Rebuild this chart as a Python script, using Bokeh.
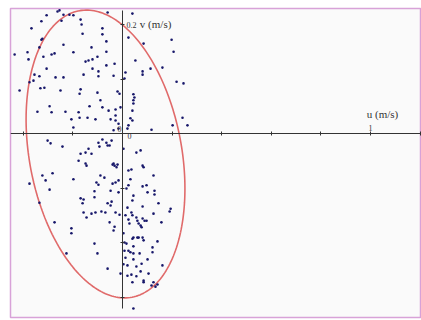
import numpy as np
from bokeh.plotting import figure
from bokeh.models import LinearAxis, FixedTicker, Range1d
from bokeh.core.properties import value
from bokeh.embed import file_html
from bokeh.resources import INLINE

# ---- data (u, v in m/s) ----
u = [-0.262, -0.254, -0.306, -0.238, -0.214, -0.198, -0.060, 0.040, -0.327, -0.169,
     -0.165, -0.246, -0.367, -0.081, -0.327, -0.323, -0.161, -0.081, -0.335, -0.238,
     -0.065, 0.024, 0.085, 0.198, -0.383, -0.379, -0.274, -0.286, -0.319, -0.198,
     -0.125, -0.101, -0.065, 0.206, -0.435, -0.149, -0.137, -0.121, -0.032, 0.052,
     -0.306, -0.121, -0.065, 0.113, 0.161, -0.355, -0.359, -0.375, -0.335, -0.270,
     -0.238, -0.157, -0.097, -0.097, -0.036, 0.012, 0.081, 0.081, 0.008, -0.331,
     -0.315, -0.250, -0.169, -0.173, -0.101, -0.020, -0.012, 0.218, 0.246, -0.415,
     -0.343, -0.294, -0.230, -0.177, -0.133, -0.089, -0.081, -0.056, -0.028, -0.028,
     -0.008, 0.044, 0.048, 0.044, 0.044, 0.040, -0.206, -0.173, -0.141, -0.109,
     -0.048, -0.028, -0.016, 0.032, 0.040, 0.024, 0.020, -0.198, 0.117, 0.202,
     0.242, 0.262, -0.036, -0.016, -0.286, -0.302, -0.290, -0.242, -0.097, -0.081,
     -0.065, -0.060, -0.052, -0.044, -0.093, -0.137, -0.149, -0.125, 0.073, -0.169,
     0.004, 0.056, -0.375, -0.323, -0.310, -0.282, -0.294, -0.198, -0.149, -0.145,
     -0.177, -0.040, -0.032, -0.020, -0.024, -0.089, -0.073, -0.105, -0.097, -0.040,
     -0.028, -0.016, -0.048, -0.016, 0.024, 0.036, 0.085, 0.125, 0.032, 0.024,
     0.016, 0.081, 0.097, 0.101, 0.129, 0.129, -0.113, -0.113, -0.169, -0.157,
     -0.161, -0.060, -0.044, -0.048, -0.335, 0.044, 0.040, 0.020, 0.081, 0.145,
     0.194, 0.190, -0.157, -0.125, -0.109, -0.085, -0.069, -0.145, -0.028, -0.012,
     0.012, 0.036, 0.040, 0.056, 0.060, 0.065, 0.073, 0.077, 0.081, 0.089,
     0.097, 0.125, -0.274, 0.024, 0.028, -0.052, -0.032, 0.157, -0.036, -0.206,
     -0.206, 0.004, 0.040, 0.044, 0.060, 0.065, 0.081, 0.085, 0.008, 0.016,
     -0.113, 0.044, 0.121, 0.141, -0.101, 0.008, 0.024, 0.032, 0.044, 0.069,
     -0.226, 0.121, 0.012, 0.044, 0.101, 0.004, 0.020, 0.056, 0.077, 0.161,
     -0.060, 0.073, 0.020, 0.105, -0.008, 0.036, 0.056, 0.085, 0.085, 0.040,
     0.125, 0.133, 0.141, 0.117, 0.044, -0.036, 0.081]
v = [0.224, 0.226, 0.217, 0.218, 0.218, 0.217, 0.222, 0.220, 0.206, 0.209,
     0.200, 0.207, 0.193, 0.193, 0.172, 0.174, 0.183, 0.182, 0.158, 0.163,
     0.169, 0.176, 0.165, 0.172, 0.149, 0.136, 0.147, 0.145, 0.141, 0.149,
     0.158, 0.141, 0.150, 0.150, 0.145, 0.132, 0.134, 0.136, 0.128, 0.134,
     0.119, 0.119, 0.125, 0.119, 0.121, 0.108, 0.097, 0.094, 0.105, 0.103,
     0.103, 0.108, 0.114, 0.105, 0.106, 0.112, 0.114, 0.108, 0.101, 0.083,
     0.084, 0.079, 0.081, 0.073, 0.075, 0.077, 0.073, 0.095, 0.092, 0.079,
     0.040, 0.050, 0.040, 0.039, 0.050, 0.061, 0.048, 0.042, 0.044, 0.033,
     0.048, 0.072, 0.066, 0.061, 0.055, 0.042, 0.026, 0.029, 0.029, 0.026,
     0.026, 0.024, 0.018, 0.028, 0.024, 0.015, 0.009, 0.011, 0.007, 0.015,
     0.029, 0.015, 0.006, 0.009, 0.039, -0.013, -0.018, -0.024, -0.017, -0.011,
     -0.017, -0.022, -0.022, -0.013, -0.024, -0.028, -0.035, -0.037, -0.031, -0.037,
     -0.028, -0.035, -0.092, -0.077, -0.086, -0.073, -0.103, -0.084, -0.055, -0.059,
     -0.050, -0.057, -0.059, -0.057, -0.062, -0.077, -0.081, -0.090, -0.094, -0.092,
     -0.090, -0.086, -0.105, -0.108, -0.068, -0.066, -0.062, -0.077, -0.084, -0.095,
     -0.101, -0.097, -0.095, -0.108, -0.105, -0.112, -0.106, -0.117, -0.119, -0.121,
     -0.128, -0.128, -0.125, -0.132, -0.127, -0.114, -0.123, -0.136, -0.134, -0.128,
     -0.138, -0.143, -0.145, -0.147, -0.145, -0.143, -0.145, -0.154, -0.145, -0.149,
     -0.150, -0.145, -0.150, -0.154, -0.160, -0.165, -0.169, -0.172, -0.156, -0.160,
     -0.160, -0.147, -0.163, -0.158, -0.165, -0.163, -0.171, -0.163, -0.178, -0.174,
     -0.183, -0.183, -0.193, -0.191, -0.191, -0.191, -0.191, -0.196, -0.200, -0.202,
     -0.202, -0.207, -0.209, -0.198, -0.220, -0.215, -0.215, -0.218, -0.220, -0.220,
     -0.220, -0.218, -0.228, -0.231, -0.231, -0.240, -0.242, -0.244, -0.239, -0.242,
     -0.248, -0.253, -0.261, -0.257, -0.257, -0.259, -0.262, -0.270, -0.273, -0.273,
     -0.273, -0.281, -0.277, -0.279, -0.321, -0.055, -0.059]

# ellipse (data units): centre, semi-axes, orientation
ell_center = (-0.0685, -0.0376)
ell_semi = (0.335, 0.245)
ell_angle_deg = -25.5

x_ticks = [-0.4, -0.2, 0.0, 0.2, 0.4, 0.6, 0.8, 1.0, 1.2]
x_tick_labels = {1.0: "1"}
y_ticks = [-0.3, -0.2, -0.1, 0.0, 0.1, 0.2]
y_tick_labels = {0.2: "0.2"}
origin_labels = ["0", "0"]
x_title = "u (m/s)"
y_title = "v (m/s)"

# ---- figure ----
p = figure(width=421, height=320, output_backend="svg", toolbar_location=None,
           x_range=Range1d(-0.4516, 1.2056), y_range=Range1d(-0.3376, 0.2294),
           x_axis_type=None, y_axis_type=None,
           min_border_left=10, min_border_right=0, min_border_top=8, min_border_bottom=3)
p.background_fill_color = "#fafafa"
p.border_fill_color = "white"
p.outline_line_color = "#d8a2d8"
p.outline_line_width = 1.5

axis_col = "#333333"
xa = LinearAxis(fixed_location=0, ticker=FixedTicker(ticks=x_ticks),
                major_label_overrides={t: x_tick_labels.get(t, "") for t in x_ticks})
xa.axis_line_color = axis_col
xa.major_tick_line_color = axis_col
xa.major_tick_in = 2
xa.major_tick_out = 2
xa.minor_tick_line_color = None
xa.major_label_standoff = 1
xa.major_label_text_font = "Liberation Serif"
xa.major_label_text_font_size = "8px"
xa.major_label_text_color = "#333333"
p.add_layout(xa, "above")

ya = LinearAxis(fixed_location=0, ticker=FixedTicker(ticks=y_ticks), bounds=(-0.322, 0.226),
                major_label_overrides={t: y_tick_labels.get(t, "") for t in y_ticks})
ya.axis_line_color = axis_col
ya.major_tick_line_color = axis_col
ya.major_tick_in = 2
ya.major_tick_out = 2
ya.minor_tick_line_color = None
ya.major_label_standoff = 2
ya.major_label_text_font = "Liberation Serif"
ya.major_label_text_font_size = "8px"
ya.major_label_text_color = "#333333"
p.add_layout(ya, "right")

# ellipse outline
t = np.linspace(0, 2 * np.pi, 240)
phi = np.deg2rad(ell_angle_deg)
a, b = ell_semi
ex = ell_center[0] + a * np.cos(t) * np.cos(phi) - b * np.sin(t) * np.sin(phi)
ey = ell_center[1] + a * np.cos(t) * np.sin(phi) + b * np.sin(t) * np.cos(phi)
p.line(ex, ey, line_color="#e06a6a", line_width=1.6)

# points
p.scatter(u, v, marker="circle", size=2.6, fill_color="#17176a", line_color=None)

# origin labels
p.text(x=[0, 0], y=[0, 0], text=origin_labels, x_offset=[-1, 5], y_offset=[-2, 2],
       text_align=["right", "left"], text_baseline=["bottom", "middle"],
       text_font=value("Liberation Serif"), text_font_size="8px", text_color="#333333")

# axis titles
p.text(x=[0.985], y=[0.0367], text=[x_title], text_align="left", text_baseline="middle",
       text_font=value("Liberation Serif"), text_font_size="11px", text_color="#333333")
p.text(x=[0.07], y=[0.2018], text=[y_title], text_align="left", text_baseline="middle",
       text_font=value("Liberation Serif"), text_font_size="11px", text_color="#333333")

open("out.html", "w").write(file_html(p, INLINE))
